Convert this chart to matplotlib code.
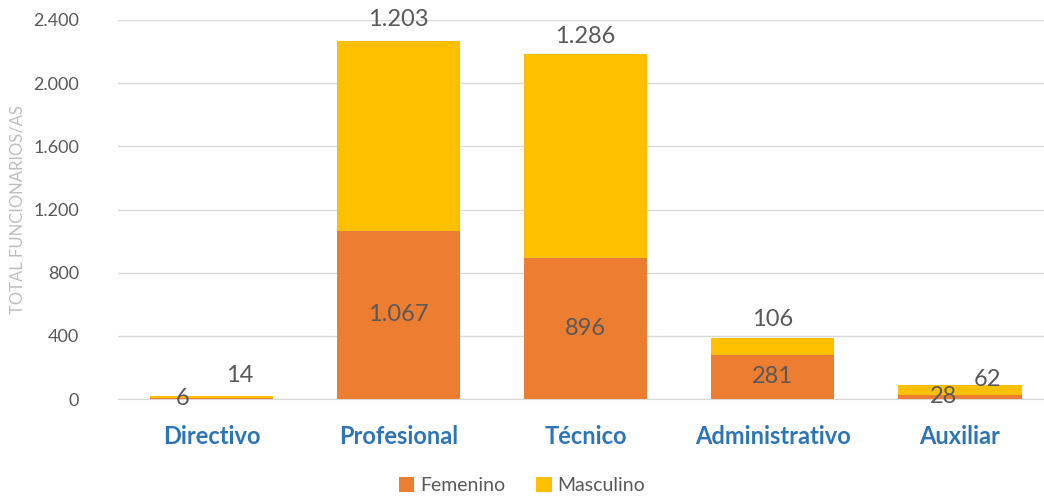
import matplotlib.pyplot as plt
import numpy as np
from matplotlib.ticker import FuncFormatter

plt.rcParams['font.family'] = ['Lato', 'DejaVu Sans']

categorias = ["Directivo", "Profesional", "Técnico", "Administrativo", "Auxiliar"]
femenino = [6, 1067, 896, 281, 28]
masculino = [14, 1203, 1286, 106, 62]

# desplazamientos de etiquetas (puntos) para las barras pequeñas
desp_fem = [(-21, 0), (0, 0), (0, 0), (0, 0), (-12, 0)]
desp_masc = [(20, 15), (0, 15), (0, 13), (0, 13), (20, 4)]


def miles(v, pos=None):
    return f"{int(v):,}".replace(",", ".")


fig = plt.figure(figsize=(10.44, 5.04), dpi=100)
ax = fig.add_axes([118 / 1044, 105 / 504, 926 / 1044, 379 / 504])

x = np.arange(len(categorias))
ancho = 0.66
b1 = ax.bar(x, femenino, ancho, color="#ED7D31", label="Femenino", zorder=3)
b2 = ax.bar(x, masculino, ancho, bottom=femenino, color="#FFC000", label="Masculino", zorder=3)

gris = "#595959"
for i in range(len(categorias)):
    ax.annotate(miles(femenino[i]), (x[i], femenino[i] / 2), xytext=desp_fem[i],
                textcoords="offset points", ha="center", va="center",
                fontsize=17, color=gris, zorder=4)
    total = femenino[i] + masculino[i]
    ax.annotate(miles(masculino[i]), (x[i], total), xytext=desp_masc[i],
                textcoords="offset points", ha="center", va="center",
                fontsize=17, color=gris, zorder=4)

ax.set_ylim(0, 2400)
ax.set_yticks(np.arange(0, 2401, 400))
ax.yaxis.set_major_formatter(FuncFormatter(miles))
ax.set_xlim(-0.5, 4.45)
ax.set_xticks(x)
ax.set_xticklabels(categorias, fontsize=17, fontweight="bold", color="#2E75B6")
ax.tick_params(axis="y", length=0, labelsize=13, labelcolor=gris, pad=28)
ax.tick_params(axis="x", length=0, pad=19)
ax.grid(axis="y", color="#D9D9D9", linewidth=1, zorder=0)
for s in ["top", "right", "left"]:
    ax.spines[s].set_visible(False)
ax.spines["bottom"].set_color("#D9D9D9")

ax.set_ylabel("TOTAL FUNCIONARIOS/AS", fontsize=12, color="#BFBFBF", labelpad=8)
ax.yaxis.set_label_coords(-0.1, 0.5)

fig.legend(loc="lower center", bbox_to_anchor=(0.5, -0.015), ncol=2, frameon=False,
           fontsize=14, labelcolor=gris, handlelength=0.8, handleheight=0.8,
           handletextpad=0.3, columnspacing=1.6)

fig.savefig("out.png", dpi=100)
